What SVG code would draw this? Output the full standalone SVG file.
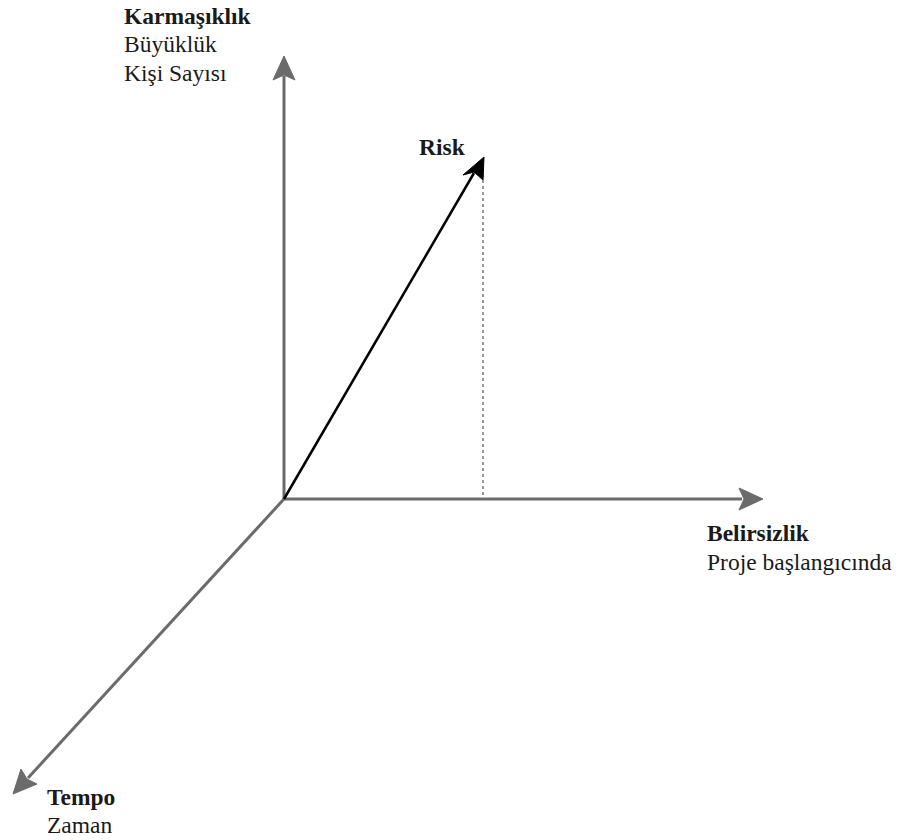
<svg xmlns="http://www.w3.org/2000/svg" width="901" height="840" viewBox="0 0 901 840">
<defs>
<style>
.axis{stroke:#6b6b6b;stroke-width:3;fill:none}
.head{fill:#6b6b6b;stroke:#6b6b6b;stroke-width:1}
.t{font-family:"Liberation Serif","Times New Roman","DejaVu Serif",serif;font-size:23.5px;font-weight:normal;fill:#1a1a1a}
.b{font-weight:bold}
</style>
</defs>
<rect width="901" height="840" fill="#fff"/>
<g id="connectors">
<line class="axis" x1="284" y1="499" x2="284" y2="76"/>
<polygon class="head" points="284,56 295,80 284,75 273,80"/>
<line class="axis" x1="284" y1="499" x2="742" y2="499"/>
<polygon class="head" points="763,499 739,510 744,499 739,488"/>
<line class="axis" x1="284" y1="499" x2="28" y2="778"/>
<polygon class="head" points="13,794 21,769 27,779 37,784"/>
<line x1="483" y1="168" x2="483" y2="499" stroke="#777" stroke-width="1.5" stroke-dasharray="3,3"/>
<line x1="284" y1="499" x2="474" y2="173" stroke="#000" stroke-width="2.5"/>
<polygon points="484,157 483,180 474,172 463,175" fill="#000" stroke="#000" stroke-width="1"/>
</g>
<g id="node-karmasiklik">
<text class="t b" x="124" y="24">Karmaşıklık</text>
<text class="t" x="124" y="52">Büyüklük</text>
<text class="t" x="124" y="81">Kişi Sayısı</text>
</g>
<g id="node-risk">
<text class="t b" x="419" y="155">Risk</text>
</g>
<g id="node-belirsizlik">
<text class="t b" x="707" y="541">Belirsizlik</text>
<text class="t" x="707" y="570">Proje başlangıcında</text>
</g>
<g id="node-tempo">
<text class="t b" x="47" y="805">Tempo</text>
<text class="t" x="47" y="833">Zaman</text>
</g>
</svg>
